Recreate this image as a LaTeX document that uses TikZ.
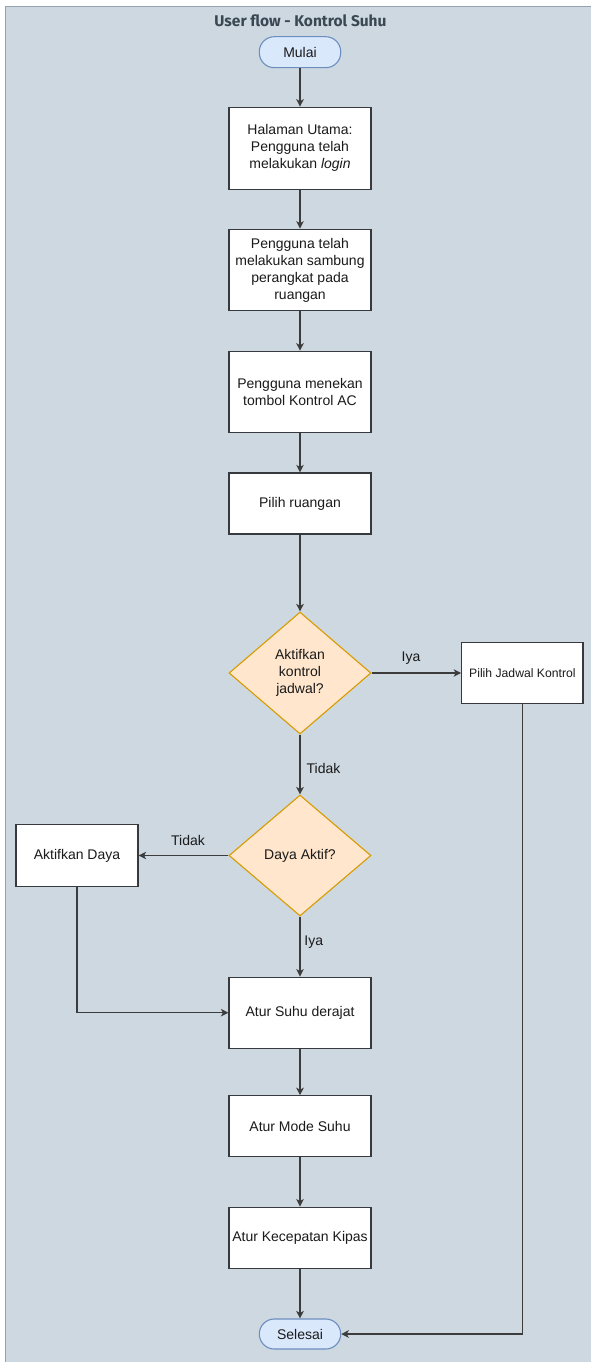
\documentclass[tikz,border=0pt]{standalone}
\usepackage{fontspec}
\setmainfont{Liberation Sans}
\newfontfamily\titlefont{Fira Sans}
\usetikzlibrary{shapes.geometric,arrows.meta}

\definecolor{lanefill}{RGB}{206,216,224}
\definecolor{lanestroke}{RGB}{150,162,174}
\definecolor{titlecol}{RGB}{58,72,84}
\definecolor{termfill}{RGB}{218,232,252}
\definecolor{termstroke}{RGB}{108,142,191}
\definecolor{decfill}{RGB}{255,230,204}
\definecolor{decstroke}{RGB}{215,155,0}
\definecolor{boxstroke}{RGB}{54,57,61}
\definecolor{wirecol}{RGB}{60,60,60}
\definecolor{inkcol}{RGB}{26,26,26}

\tikzset{
  txt/.style={font=\fontsize{14}{17}\selectfont, text=inkcol, align=center},
  terminal/.style={txt, draw=termstroke, fill=termfill, line width=1.1pt,
    rounded corners=15pt, minimum width=81.4pt, inner sep=2pt},
  stepbox/.style={txt, draw=boxstroke, fill=white, line width=1.2pt,
    minimum width=142pt, inner sep=2pt},
  decision/.style={txt, shape=diamond, draw=decstroke, fill=decfill,
    line width=1.1pt, minimum width=142pt, inner sep=1pt},
  flow/.style={draw=wirecol, line width=1.2pt,
    -{Stealth[length=7.5pt,width=7.5pt,inset=2pt]}},
  lbl/.style={font=\fontsize{14}{17}\selectfont, text=inkcol, inner sep=0pt}
}

\begin{document}
\begin{tikzpicture}[x=1pt,y=-1pt]
  \useasboundingbox (0,0) rectangle (590,1362);
  \fill[white] (0,0) rectangle (590,1362);

  % swimlane container
  \draw[fill=lanefill, draw=lanestroke, line width=1.2pt] (5.7,6.3) rectangle (596,1370);
  \node[anchor=base, font=\titlefont\bfseries\fontsize{15.5}{18}\selectfont, text=titlecol]
    (title) at (300.5,26.7) {User flow - Kontrol Suhu};

  % main column
  \node[terminal, minimum height=31pt] (mulai) at (300,52.2) {Mulai};
  \node[stepbox, minimum height=82pt] (halaman) at (300,148.3)
    {Halaman Utama:\\Pengguna telah\\melakukan \textit{login}};
  \node[stepbox, minimum height=81.5pt] (sambung) at (300,270)
    {Pengguna telah\\melakukan sambung\\perangkat pada\\ruangan};
  \node[stepbox, minimum height=81pt] (tekan) at (300,391.8)
    {Pengguna menekan\\tombol Kontrol AC};
  \node[stepbox, minimum height=61pt] (ruangan) at (300,503.5) {Pilih ruangan};
  \node[decision, minimum height=122pt] (jadwalq) at (300,673)
    {Aktifkan\\kontrol\\jadwal?};
  \node[stepbox, minimum width=121.3pt, minimum height=61pt,
    font=\fontsize{12.2}{15}\selectfont] (jadwal) at (522.4,673)
    {Pilih Jadwal Kontrol};
  \node[decision, minimum height=121pt] (dayaq) at (300,855.5) {Daya Aktif?};
  \node[stepbox, minimum width=122pt, minimum height=61.7pt] (daya) at (77,855.5)
    {Aktifkan Daya};
  \node[stepbox, minimum height=71pt] (suhu) at (300,1012.7) {Atur Suhu derajat};
  \node[stepbox, minimum height=61pt] (mode) at (300,1126.3) {Atur Mode Suhu};
  \node[stepbox, minimum height=61.7pt] (kipas) at (300,1238) {Atur Kecepatan Kipas};
  \node[terminal, minimum height=30pt] (selesai) at (300,1334) {Selesai};

  % connectors
  \draw[flow] (mulai) -- (halaman);
  \draw[flow] (halaman) -- (sambung);
  \draw[flow] (sambung) -- (tekan);
  \draw[flow] (tekan) -- (ruangan);
  \draw[flow] (ruangan) -- (jadwalq);
  \draw[flow] (jadwalq.east) -- node[lbl, pos=0.44, yshift=15pt] {Iya} (jadwal.west);
  \draw[flow] (jadwalq.south) -- node[lbl, pos=0.57, xshift=23.5pt] {Tidak} (dayaq.north);
  \draw[flow] (dayaq.west) -- node[lbl, pos=0.45, yshift=15.5pt] {Tidak} (daya.east);
  \draw[flow] (dayaq.south) -- node[lbl, pos=0.43, xshift=13.7pt] {Iya} (suhu.north);
  \draw[flow] (daya.south) |- (suhu.west);
  \draw[flow] (suhu) -- (mode);
  \draw[flow] (mode) -- (kipas);
  \draw[flow] (kipas) -- (selesai);
  \draw[flow] (jadwal.south) |- (selesai.east);
\end{tikzpicture}
\end{document}
